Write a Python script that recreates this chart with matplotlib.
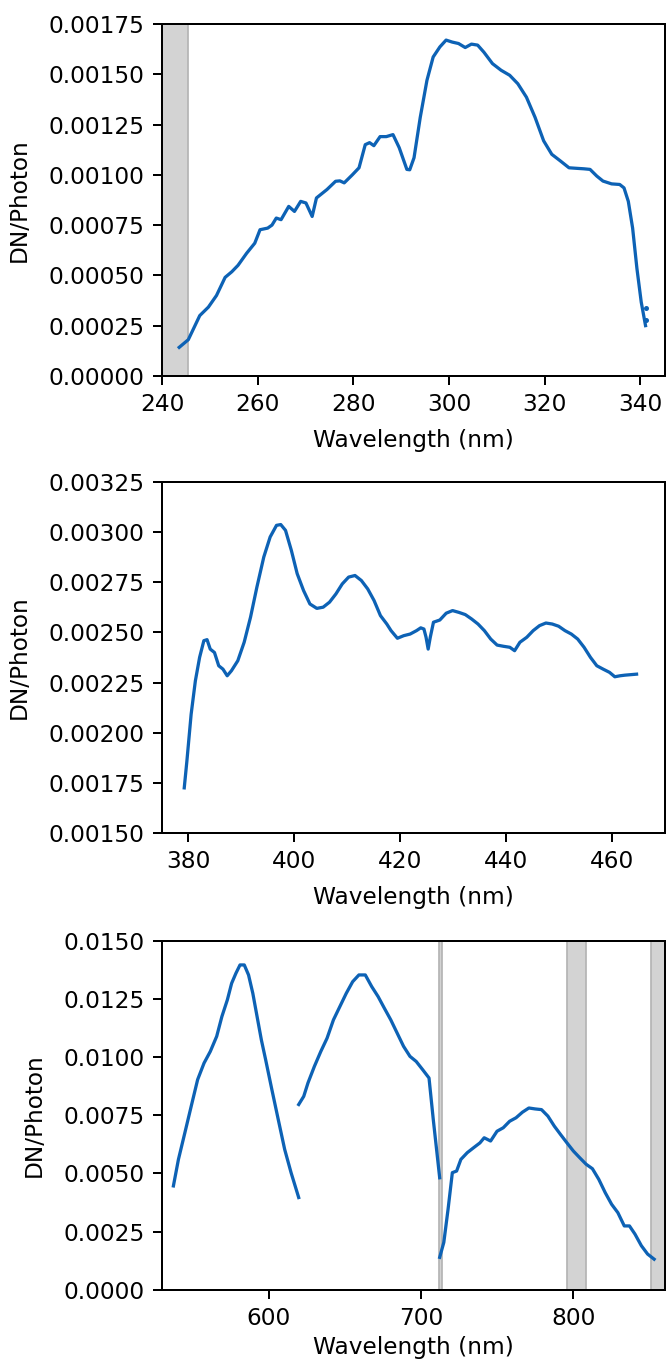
import matplotlib
matplotlib.use("Agg")
import matplotlib.pyplot as plt
from matplotlib.ticker import FormatStrFormatter

# panel 1 : UV band
wl_uv = [243.6, 245.5, 247.9, 249.7, 251.4, 253.2, 254.6, 255.9, 257.7, 259.4,
         260.5, 262.1, 263.0, 263.9, 264.9, 266.5, 267.7, 269.0, 270.1, 271.4,
         272.3, 274.5, 276.3, 277.2, 278.1, 279.8, 281.2, 282.5, 283.4, 284.3,
         285.6, 286.9, 288.3, 289.6, 291.2, 291.8, 292.7, 294.0, 295.4, 296.7,
         298.1, 299.4, 300.7, 302.0, 303.4, 304.7, 306.0, 307.3, 309.1, 310.9,
         312.7, 314.4, 316.2, 318.0, 319.8, 321.5, 323.3, 325.1, 326.9, 328.2,
         329.5, 330.9, 332.2, 334.0, 335.7, 336.6, 337.5, 338.4, 339.3, 340.2,
         341.1]
dn_uv = [0.000142, 0.00018, 0.0003, 0.000342, 0.0004, 0.00049, 0.000518, 0.00055, 0.00061, 0.00066,
         0.000727, 0.000735, 0.00075, 0.000785, 0.000777, 0.000843, 0.000818, 0.000868, 0.00086, 0.000793,
         0.000885, 0.000927, 0.000968, 0.00097, 0.00096, 0.001, 0.001035, 0.00115, 0.00116, 0.001145,
         0.00119, 0.00119, 0.0012, 0.001135, 0.001027, 0.001025, 0.001085, 0.001286, 0.00147, 0.001586,
         0.001636, 0.00167, 0.00166, 0.001653, 0.001633, 0.00165, 0.001645, 0.00161, 0.001553, 0.00152,
         0.001495, 0.001453, 0.001386, 0.001286, 0.001169, 0.001102, 0.001069, 0.001035, 0.001032, 0.00103,
         0.001027, 0.000994, 0.000969, 0.000955, 0.000952, 0.000935, 0.000868, 0.000735, 0.000534, 0.000367,
         0.00025]
wl_uv_dots = [341.3, 341.2]
dn_uv_dots = [0.00034, 0.00028]

# panel 2 : blue band
wl_blue = [379.3, 379.8, 380.6, 381.4, 382.2, 383.0, 383.6, 384.2, 385.0, 385.8,
           386.6, 387.4, 388.2, 389.4, 390.6, 391.8, 393.0, 394.3, 395.5, 396.7,
           397.5, 398.4, 399.5, 400.6, 401.8, 403.0, 404.3, 405.5, 406.7, 407.9,
           409.1, 410.3, 411.5, 412.7, 413.9, 415.1, 416.3, 417.5, 418.3, 419.5,
           420.7, 421.9, 423.1, 423.9, 424.5, 424.9, 425.3, 425.7, 426.3, 427.5,
           428.7, 429.9, 431.1, 432.3, 433.5, 434.7, 435.9, 437.1, 438.3, 439.5,
           440.7, 441.6, 442.6, 443.9, 445.1, 446.3, 447.5, 448.7, 449.9, 451.1,
           452.3, 453.5, 454.7, 455.9, 457.1, 458.3, 459.5, 460.5, 461.5, 462.4,
           464.6]
dn_blue = [0.001725, 0.001859, 0.002092, 0.002259, 0.002376, 0.002459, 0.002464, 0.002417, 0.0024, 0.002334,
           0.002317, 0.002284, 0.002309, 0.002359, 0.002451, 0.002576, 0.002726, 0.002876, 0.002976, 0.003034,
           0.003038, 0.003009, 0.002909, 0.002793, 0.002709, 0.002642, 0.00262, 0.002626, 0.002651, 0.002692,
           0.002742, 0.002776, 0.002784, 0.002759, 0.002717, 0.002659, 0.002584, 0.002542, 0.002509, 0.002471,
           0.002484, 0.002492, 0.002509, 0.002523, 0.002517, 0.002476, 0.002417, 0.002476, 0.002551, 0.002562,
           0.002596, 0.002609, 0.0026, 0.002589, 0.002567, 0.002542, 0.002509, 0.002467, 0.002437, 0.002431,
           0.002426, 0.002409, 0.002451, 0.002476, 0.002509, 0.002534, 0.002547, 0.002542, 0.002531, 0.002509,
           0.002492, 0.002467, 0.002426, 0.002376, 0.002334, 0.002317, 0.002301, 0.002279, 0.002284, 0.002287,
           0.002292]

# panel 3 : visible / NIR, three separate segments
wl_a = [537.6, 540.9, 545.1, 549.3, 553.5, 557.7, 561.8, 566.0, 569.4, 573.0, 575.8, 578.6,
        581.3, 584.1, 586.9, 589.7, 592.5, 595.3, 598.1, 602.2, 606.4, 610.6, 614.8, 619.8]
dn_a = [0.00446, 0.0056, 0.00674, 0.00789, 0.00903, 0.00974, 0.01024, 0.01089, 0.01174, 0.01246, 0.01317, 0.0136,
        0.01396, 0.01396, 0.01353, 0.01274, 0.01174, 0.01074, 0.00989, 0.0086, 0.00731, 0.00603, 0.00503, 0.00396]

wl_b = [619.8, 623.1, 625.9, 630.1, 634.3, 638.4, 642.6, 646.8, 651.0, 655.2, 659.3, 663.5,
        667.7, 671.9, 676.0, 680.2, 684.4, 688.6, 692.8, 696.9, 701.1, 705.3, 708.1, 712.3]
dn_b = [0.00796, 0.00831, 0.00889, 0.0096, 0.01024, 0.01081, 0.0116, 0.01217, 0.01274, 0.01324, 0.01353, 0.01353,
        0.01303, 0.0126, 0.0121, 0.0116, 0.01103, 0.01046, 0.01003, 0.00981, 0.00946, 0.0091, 0.00731, 0.00481]

wl_c = [712.3, 715.0, 717.8, 720.6, 723.4, 726.2, 730.4, 734.5, 738.7, 741.5, 745.7, 749.9,
        754.0, 758.2, 762.4, 766.6, 770.8, 774.9, 779.1, 783.3, 787.5, 791.6, 795.8, 800.0,
        804.2, 808.4, 812.5, 816.7, 820.9, 825.1, 829.2, 833.4, 836.8, 840.4, 844.6, 848.7, 853.0]
dn_c = [0.00139, 0.00203, 0.00346, 0.00503, 0.0051, 0.0056, 0.00589, 0.0061, 0.00631, 0.00653, 0.00639, 0.00681,
        0.00696, 0.00724, 0.00739, 0.00763, 0.00781, 0.00777, 0.00774, 0.00746, 0.00703, 0.00667, 0.00631, 0.00596,
        0.00567, 0.00539, 0.0052, 0.00474, 0.00417, 0.00367, 0.00331, 0.00274, 0.00274, 0.00239, 0.00189, 0.00153, 0.00131]

# excluded bands (grey)
span_uv = [(238.0, 245.5)]
span_vis = [(712.0, 714.0), (796.0, 808.5), (851.0, 865.0)]

color = '#0d62b5'
fs = 9.3

fig = plt.figure(figsize=(666 / 180, 1364 / 180), dpi=180)
ax1 = fig.add_axes([0.2432, 0.7244, 0.7548, 0.2580])
ax2 = fig.add_axes([0.2432, 0.3893, 0.7548, 0.2573])
ax3 = fig.add_axes([0.2432, 0.0545, 0.7548, 0.2558])

for lo, hi in span_uv:
    ax1.axvspan(lo, hi, facecolor='#d3d3d3', edgecolor='#b5b5b5', lw=0.7, zorder=0)
ax1.plot(wl_uv, dn_uv, color=color, lw=1.3)
ax1.plot(wl_uv_dots, dn_uv_dots, '.', color=color, ms=2)
ax1.set_xlim(240, 345.1)
ax1.set_ylim(0, 0.00175)
ax1.set_xticks([240, 260, 280, 300, 320, 340])
ax1.set_yticks([0, 0.00025, 0.0005, 0.00075, 0.001, 0.00125, 0.0015, 0.00175])
ax1.yaxis.set_major_formatter(FormatStrFormatter('%.5f'))

ax2.plot(wl_blue, dn_blue, color=color, lw=1.3)
ax2.set_xlim(375.1, 469.9)
ax2.set_ylim(0.0015, 0.00325)
ax2.set_xticks([380, 400, 420, 440, 460])
ax2.set_yticks([0.0015, 0.00175, 0.002, 0.00225, 0.0025, 0.00275, 0.003, 0.00325])
ax2.yaxis.set_major_formatter(FormatStrFormatter('%.5f'))

for lo, hi in span_vis:
    ax3.axvspan(lo, hi, facecolor='#d3d3d3', edgecolor='#b5b5b5', lw=0.7, zorder=0)
ax3.plot(wl_a, dn_a, color=color, lw=1.3)
ax3.plot(wl_b, dn_b, color=color, lw=1.3)
ax3.plot(wl_c, dn_c, color=color, lw=1.3)
ax3.set_xlim(530.1, 859.9)
ax3.set_ylim(0, 0.015)
ax3.set_xticks([600, 700, 800])
ax3.set_yticks([0, 0.0025, 0.005, 0.0075, 0.01, 0.0125, 0.015])
ax3.yaxis.set_major_formatter(FormatStrFormatter('%.4f'))

for ax in (ax1, ax2, ax3):
    ax.set_xlabel('Wavelength (nm)', fontsize=fs, labelpad=5)
    ax.set_ylabel('DN/Photon', fontsize=fs, labelpad=7)
    ax.tick_params(labelsize=fs)
ax3.xaxis.labelpad = 2.5

fig.savefig('out.png', dpi=180)
